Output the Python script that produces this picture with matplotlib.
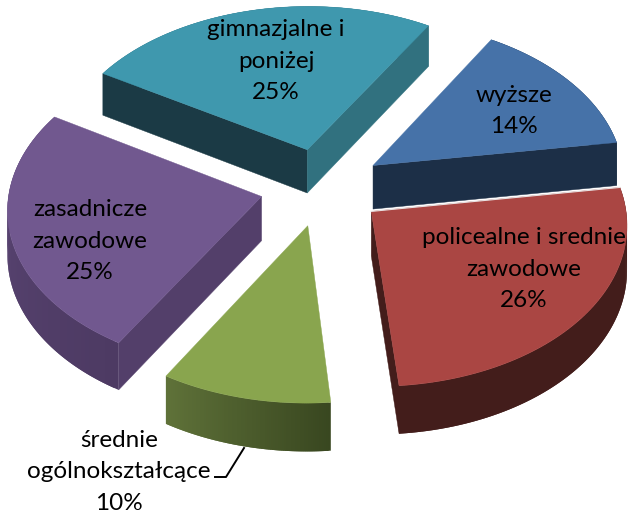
import numpy as np
import matplotlib
matplotlib.use("Agg")
import matplotlib.pyplot as plt
from matplotlib.patches import Polygon
from matplotlib.colors import to_rgb

# clockwise from the start angle
labels = ["wyższe", "policealne i srednie\nzawodowe", "średnie\nogólnokształcące", "zasadnicze\nzawodowe", "gimnazjalne i\nponiżej"]
values = [14, 26, 10, 25, 25]

top_colors = ["#4672A8", "#AA4643", "#89A54E", "#71588F", "#3F98AE"]
start_wall = ["#1C2F47", "#431D1B", "#394720", "#533F6A", "#1B3A45"]
end_wall = ["#1C2F47", "#431D1B", "#5E7138", "#533F6A", "#31717F"]
rim_from = ["#1C2F47", "#431D1B", "#394720", "#4D3A63", "#31717F"]
rim_to = ["#1C2F47", "#431D1B", "#5F7239", "#5C4776", "#31717F"]
label_pos = [(514, 111), (524, 269), (119, 472), (90, 241), (276, 61)]
draw_order = [4, 0, 3, 1, 2]

leader_x = [215, 226, 244]
leader_y = [477, 477, 448]

START = 31
RADIUS = 252
EXPLODE = 62
CX, CY = 322, 187
TILT = 0.63
PERSP = 3500
DEPTH = 44


def project(x, y):
    s = 1 / (1 + y / PERSP)
    return CX + x * s, CY - y * TILT * s, s


def quad(ax, pts_a, pts_b, color, z, lw=0.0):
    pts = np.array(pts_a + pts_b[::-1])
    ax.add_patch(Polygon(pts, closed=True, facecolor=color, edgecolor=color, linewidth=lw, zorder=z))


def wall_faces_front(apex, corner, inside):
    # the wall shows only if the slice lies above its edge on screen
    if corner[0] == apex[0]:
        return False
    line_y = apex[1] + (corner[1] - apex[1]) * (inside[0] - apex[0]) / (corner[0] - apex[0])
    return inside[1] < line_y


fig = plt.figure(figsize=(6.31, 5.15), dpi=100)
ax = fig.add_axes([0, 0, 1, 1])
ax.set_xlim(0, 631)
ax.set_ylim(515, 0)
ax.axis("off")

edges = START + np.cumsum([0] + values) * 3.6

for order, i in enumerate(draw_order):
    a0, a1 = edges[i], edges[i + 1]
    mid = np.radians((a0 + a1) / 2)
    ox, oy = EXPLODE * np.sin(mid), EXPLODE * np.cos(mid)
    z = order * 10

    angles = np.radians(np.linspace(a0, a1, 80))
    rim = [project(ox + RADIUS * np.sin(t), oy + RADIUS * np.cos(t)) for t in angles]
    top = [(p[0], p[1]) for p in rim]
    bottom = [(p[0], p[1] + DEPTH * p[2]) for p in rim]
    ax_, ay_, s_ = project(ox, oy)
    apex_top = (ax_, ay_)
    apex_bottom = (ax_, ay_ + DEPTH * s_)
    inside = top[len(top) // 2]

    # outer wall in overlapping strips, so the shading can run along it without seams
    c0, c1 = np.array(to_rgb(rim_from[i])), np.array(to_rgb(rim_to[i]))
    for k in range(len(rim) - 1):
        mix = k / (len(rim) - 2)
        quad(ax, top[k:k + 3], bottom[k:k + 3], tuple(c0 + (c1 - c0) * mix), z)

    # side walls
    if wall_faces_front(apex_top, top[0], inside):
        quad(ax, [apex_top, top[0]], [apex_bottom, bottom[0]], start_wall[i], z + 1, lw=0.3)
    if wall_faces_front(apex_top, top[-1], inside):
        quad(ax, [apex_top, top[-1]], [apex_bottom, bottom[-1]], end_wall[i], z + 1, lw=0.3)

    ax.add_patch(Polygon([apex_top] + top, closed=True, facecolor=top_colors[i], edgecolor=top_colors[i],
                         linewidth=0.3, zorder=z + 2))

    # thin light seam where the red slice sits against the blue wall
    if i == 1:
        ax.plot([apex_top[0], top[0][0]], [apex_top[1], top[0][1]], color="#E8E0E0", linewidth=0.8, zorder=z + 3)

for i in range(len(values)):
    ax.text(label_pos[i][0], label_pos[i][1], f"{labels[i]}\n{values[i]}%", ha="center", va="center",
            family="Lato", fontsize=17.5, color="black", linespacing=1.62, zorder=100)

ax.plot(leader_x, leader_y, color="black", linewidth=1.4, zorder=100)

fig.savefig("out.png", dpi=100)
